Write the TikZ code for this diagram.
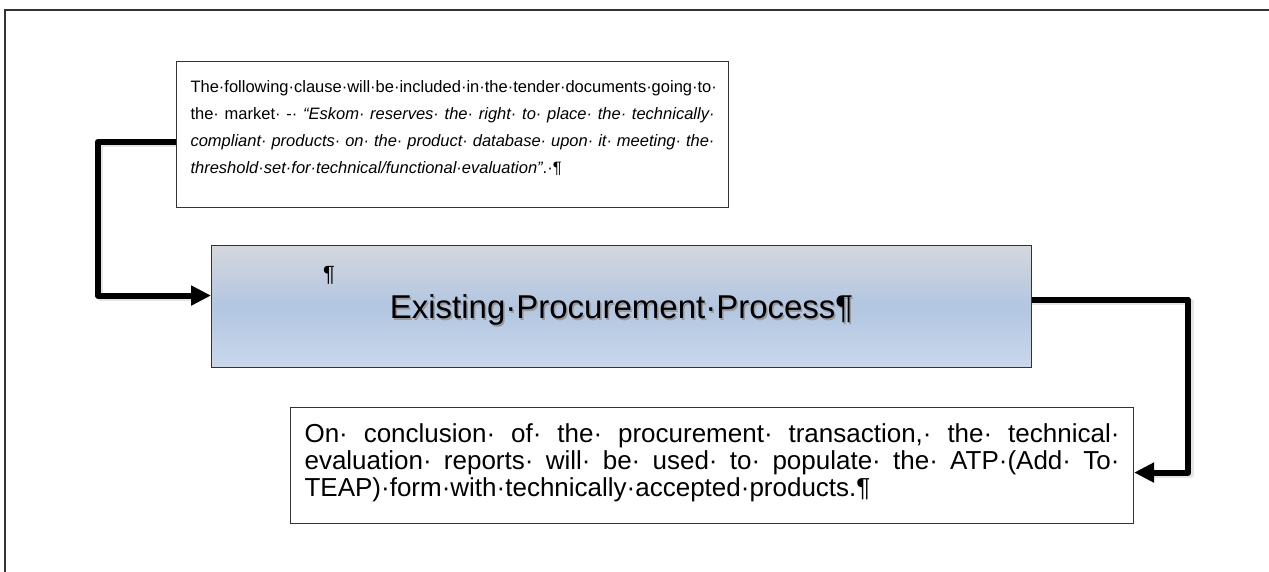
\documentclass[tikz,border=0pt]{standalone}
\usepackage{fontspec}
\setmainfont{Liberation Sans}
\usetikzlibrary{arrows.meta,calc}
\definecolor{gtop}{HTML}{D5D7DD}
\definecolor{gmid}{HTML}{B2C6E1}
\definecolor{gbot}{HTML}{C9D8EC}
\definecolor{frame}{HTML}{333333}
\tikzset{
  textbox/.style={draw=frame, line width=1.1pt, fill=white, inner xsep=14pt, inner ysep=0pt, anchor=north west},
  procbox/.style={draw=frame, line width=1.1pt, top color=gtop, bottom color=gbot, middle color=gmid, anchor=north west, inner sep=0pt, minimum width=820pt, minimum height=122pt},
  conn/.style={line width=6pt, line join=round, -{Triangle[length=20pt,width=19pt]}},
  connshadow/.style={line width=6pt, line join=round, black, opacity=0.10},
}
\begin{document}
\begin{tikzpicture}[x=1pt,y=-1pt]
\useasboundingbox (0,0) rectangle (1269,571);
\fill[white] (0,0) rectangle (1269,571);
% outer frame
\draw[frame, line width=1.6pt] (5,572) -- (5,10) -- (1270,10);

% top text box
\node[textbox] (top) at (176,61) {\parbox[t][146pt][t]{524pt}{\fontsize{16.5}{27}\selectfont\vspace*{19pt}%
The·following·clause·will·be·included·in·the·tender·documents·going·to·\\
\makebox[\linewidth][s]{the· market· -· \textit{“Eskom· reserves· the· right· to· place· the· technically·}}\\
\makebox[\linewidth][s]{\textit{compliant· products· on· the· product· database· upon· it· meeting· the·}}\\
\textit{threshold·set·for·technical/functional·evaluation”}.·¶}};

% middle process box
\node[procbox] (proc) at (211,245) {};
\node[black!40] at ($(proc.center)+(1.5,5)$) {\fontsize{33}{36}\selectfont Existing·Procurement·Process¶};
\node (proctext) at ($(proc.center)+(0,3.5)$) {\fontsize{33}{36}\selectfont Existing·Procurement·Process¶};
\node (pil) at (329,275) {\fontsize{22}{26}\selectfont ¶};

% bottom text box
\node[textbox] (bot) at (290,407) {\parbox[t][116pt][t]{815pt}{\fontsize{26}{27}\selectfont\vspace*{16pt}%
\makebox[\linewidth][s]{On· conclusion· of· the· procurement· transaction,· the· technical·}\\
\makebox[\linewidth][s]{evaluation· reports· will· be· used· to· populate· the· ATP·(Add· To·}\\
TEAP)·form·with·technically·accepted·products.¶}};

% connectors
\coordinate (l1) at ($(top.west)+(0,7)$);
\coordinate (l2) at ($(proc.west)+(0,-11)$);
\coordinate (r1) at ($(proc.east)+(0,-7)$);
\coordinate (r2) at ($(bot.east)+(0,7)$);
\draw[connshadow] ($(l1)+(0,2.5)$) -- ++(-76,0) |- ($(l2)+(-20,2.5)$);
\draw[connshadow] ($(r1)+(0,2.5)$) -| ($(r2)+(57,2.5)$) -- ($(r2)+(20,2.5)$);
\draw[conn] (l1) -- ++(-78,0) |- (l2);
\draw[conn] (r1) -| ($(r2)+(54,0)$) -- (r2);
\end{tikzpicture}
\end{document}
